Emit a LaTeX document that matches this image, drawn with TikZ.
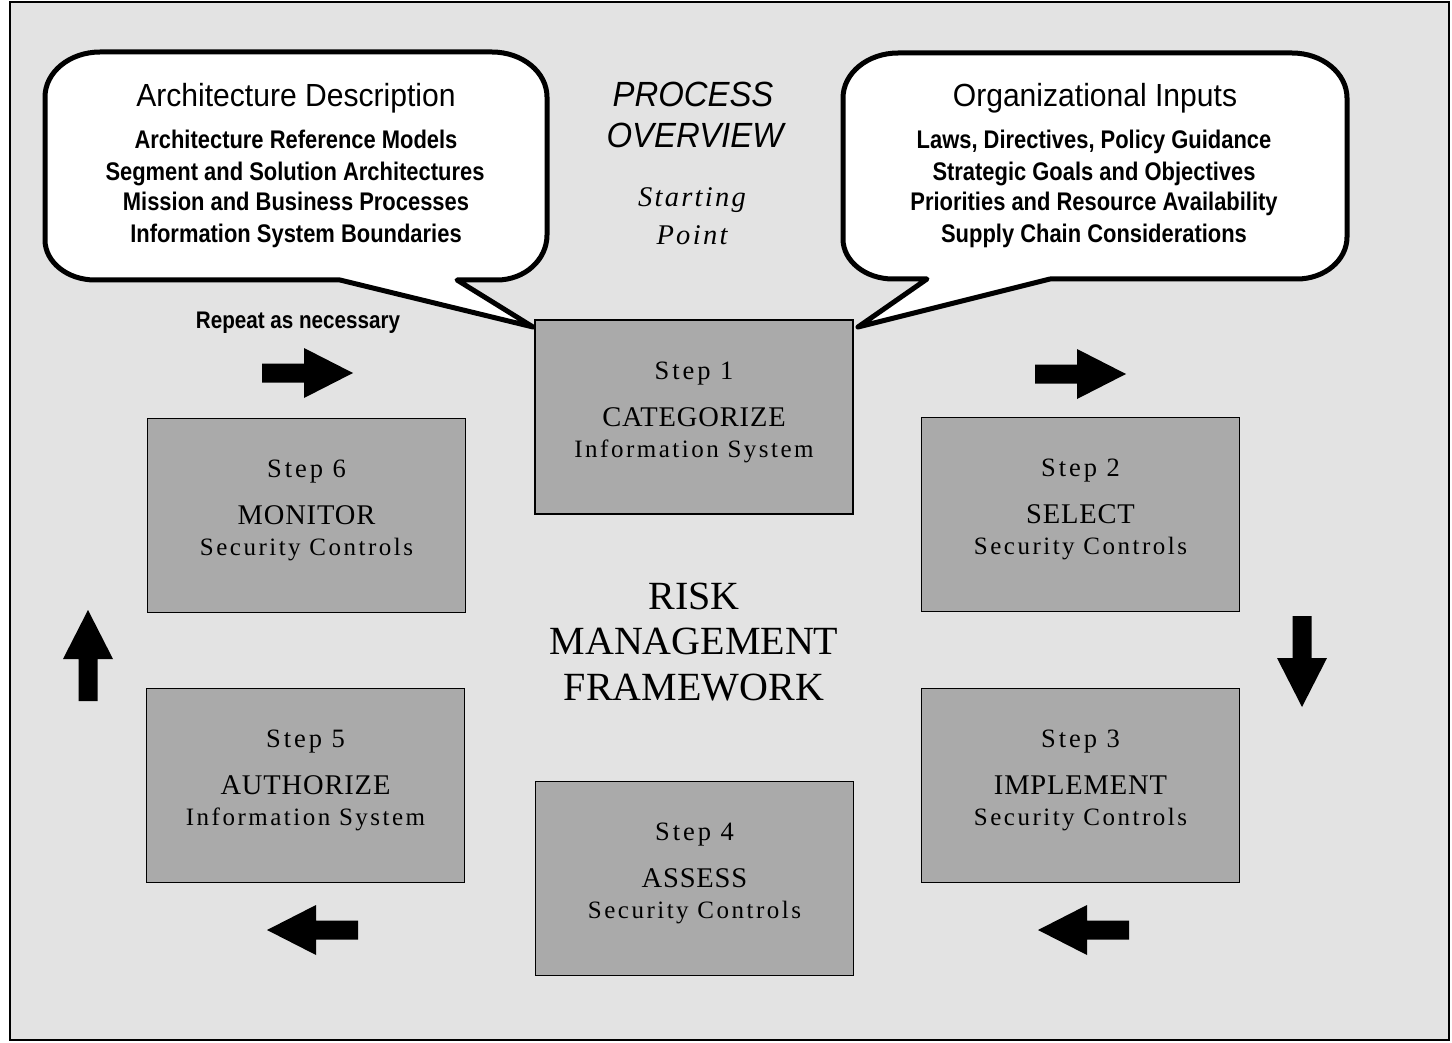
\documentclass[tikz,border=0pt]{standalone}
\usepackage{fontspec}
\setmainfont{Liberation Serif}
\newfontfamily\bubbletitle[FakeStretch=0.94]{Liberation Sans}
\newfontfamily\bubbleline[FakeStretch=0.86]{Liberation Sans}
\newfontfamily\procfont[FakeStretch=0.94]{Liberation Sans}
\newfontfamily\startfont[LetterSpace=8]{Liberation Serif}
\newfontfamily\steplabfont[LetterSpace=11]{Liberation Serif}
\newfontfamily\stepnamefont[LetterSpace=3]{Liberation Serif}
\newfontfamily\stepsubfont[LetterSpace=10]{Liberation Serif}
\newfontfamily\rmfframe{Liberation Serif}
\definecolor{bggray}{HTML}{E3E3E3}
\definecolor{boxgray}{HTML}{AAAAAA}
\begin{document}
\begin{tikzpicture}[x=1pt,y=-1pt,
  stepbox/.style={draw=black, line width=1.8pt, fill=boxgray, minimum width=318pt, minimum height=194pt, inner sep=0pt},
  steplab/.style={anchor=base, inner sep=0pt, font=\steplabfont\fontsize{26.5}{30}\selectfont},
  stepname/.style={anchor=base, inner sep=0pt, font=\stepnamefont\fontsize{28.5}{32}\selectfont},
  stepsub/.style={anchor=base, inner sep=0pt, font=\stepsubfont\fontsize{25}{28}\selectfont},
  bubble/.style={draw=black, line width=5pt, fill=white, line join=round},
  btitle/.style={anchor=base, inner sep=0pt, font=\bubbletitle\fontsize{32}{36}\selectfont},
  bline/.style={anchor=base, inner sep=0pt, font=\bubbleline\bfseries\fontsize{25.5}{28}\selectfont},
  proc/.style={anchor=base, inner sep=0pt, font=\procfont\itshape\fontsize{35}{40}\selectfont},
  start/.style={anchor=base, inner sep=0pt, font=\startfont\itshape\fontsize{28.5}{32}\selectfont},
  rmf/.style={anchor=base, inner sep=0pt, font=\rmfframe\fontsize{40}{44}\selectfont},
  blockarrow/.pic={\fill[black] (0,-9.5) -- (42,-9.5) -- (42,-25) -- (91,0) -- (42,25) -- (42,9.5) -- (0,9.5) -- cycle;}
]
\useasboundingbox (0,0) rectangle (1452,1043);
% frame
\draw[line width=2.5pt, fill=bggray] (10,2) rectangle (1449,1040);

% left bubble
\draw[bubble] (457,280) -- (497,280)
  arc[start angle=90, end angle=0, x radius=50, y radius=45] -- (547,97)
  arc[start angle=0, end angle=-90, x radius=55, y radius=45] -- (100,52)
  arc[start angle=-90, end angle=-180, x radius=55, y radius=45] -- (45,240)
  arc[start angle=180, end angle=90, x radius=50, y radius=40] -- (340,280)
  -- (533,327) -- cycle;
% right bubble
\draw[bubble] (1050,279) -- (1297,279)
  arc[start angle=90, end angle=0, x radius=50, y radius=42] -- (1347,98)
  arc[start angle=0, end angle=-90, x radius=55, y radius=45] -- (898,53)
  arc[start angle=-90, end angle=-180, x radius=55, y radius=45] -- (843,239)
  arc[start angle=180, end angle=90, x radius=50, y radius=40] -- (927,279)
  -- (858,327) -- cycle;

% left bubble text
\node[btitle] (adt) at (296,107) {Architecture Description};
\node[bline] (ad1) at (296,149) {Architecture Reference Models};
\node[bline] (ad2) at (295,181) {Segment and Solution Architectures};
\node[bline] (ad3) at (296,211) {Mission and Business Processes};
\node[bline] (ad4) at (296,243) {Information System Boundaries};

% right bubble text
\node[btitle] (oit) at (1095,107) {Organizational Inputs};
\node[bline] (oi1) at (1094,149) {Laws, Directives, Policy Guidance};
\node[bline] (oi2) at (1094,181) {Strategic Goals and Objectives};
\node[bline] (oi3) at (1094,211) {Priorities and Resource Availability};
\node[bline] (oi4) at (1094,243) {Supply Chain Considerations};

% center header
\node[proc] (po1) at (693,107) {PROCESS};
\node[proc] (po2) at (695,148) {OVERVIEW};
\node[start] (sp1) at (692,207) {Starting};
\node[start] (sp2) at (692,245) {Point};

\node[anchor=base, inner sep=0pt, font=\bubbleline\bfseries\fontsize{24}{28}\selectfont] (rep) at (298,328) {Repeat as necessary};

% step boxes
\node[stepbox] (s1) at (694,417) {};
\node[stepbox] (s2) at (1080.5,514.5) {};
\node[stepbox] (s3) at (1080.5,785.5) {};
\node[stepbox] (s4) at (694.5,878.5) {};
\node[stepbox] (s5) at (305.5,785.5) {};
\node[stepbox] (s6) at (306.5,515.5) {};

\foreach \b/\n/\nm/\sb in {s1/1/CATEGORIZE/Information System, s2/2/SELECT/Security Controls, s3/3/IMPLEMENT/Security Controls, s4/4/ASSESS/Security Controls, s5/5/AUTHORIZE/Information System, s6/6/MONITOR/Security Controls}{
  \node[steplab] (\b lab) at ([yshift=-60pt]\b.north) {Step \n};
  \node[stepname] (\b name) at ([yshift=-107pt]\b.north) {\nm};
  \node[stepsub] (\b sub) at ([yshift=-138pt]\b.north) {\sb};
}

% center title
\node[rmf] (rmf1) at (694,609) {RISK};
\node[rmf] (rmf2) at (694,654) {MANAGEMENT};
\node[rmf] (rmf3) at (694,700) {FRAMEWORK};

% block arrows
\pic (aTL) at (262,373) {blockarrow};
\pic (aTR) at (1035,374) {blockarrow};
\pic[rotate=-90] (aR) at (1302,616) {blockarrow};
\pic[rotate=180] (aBR) at (1129,930) {blockarrow};
\pic[rotate=180] (aBL) at (358,930) {blockarrow};
\pic[rotate=90] (aL) at (88,701) {blockarrow};
\end{tikzpicture}
\end{document}
